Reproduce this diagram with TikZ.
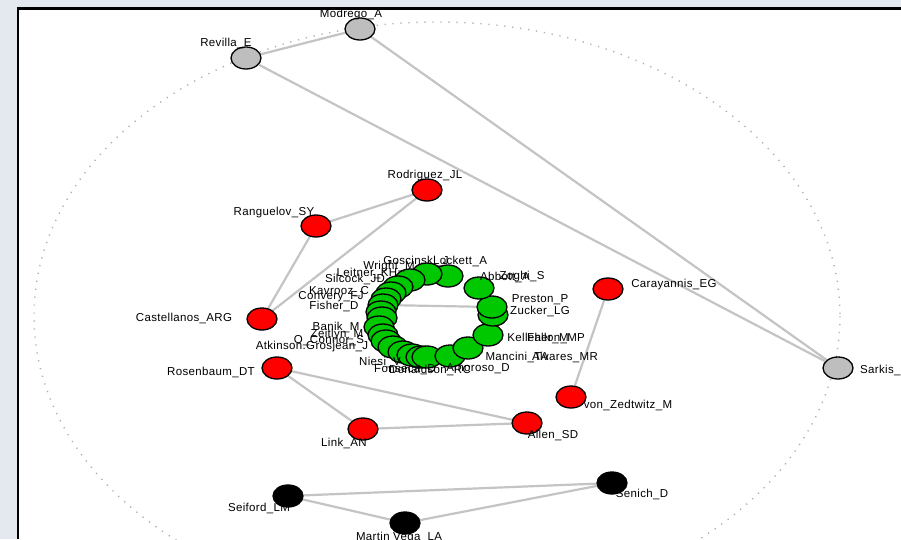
\documentclass[tikz,border=0pt]{standalone}
\usepackage{fontspec}
\setmainfont[LetterSpace=3]{Liberation Sans}
\usetikzlibrary{shapes.geometric,backgrounds}

\definecolor{nodered}{RGB}{255,0,0}
\definecolor{nodegreen}{RGB}{0,200,0}
\definecolor{nodegray}{RGB}{190,190,190}
\definecolor{tiegray}{RGB}{196,196,196}
\definecolor{rimgray}{RGB}{175,175,175}
\definecolor{slidebg}{RGB}{228,233,240}

\tikzset{
  actor/.style={ellipse,draw=black,line width=1.3pt,fill=#1,
    minimum width=30pt,minimum height=22pt,inner sep=0pt},
  actor/.default=nodegray,
  lbl/.style={font=\fontsize{11.5}{12}\selectfont,inner sep=0pt},
  tie/.style={draw=tiegray,line width=2.2pt},
}

\begin{document}
\begin{tikzpicture}[x=1pt,y=-1pt]
\useasboundingbox (0,0) rectangle (901,539);

\begin{scope}[on background layer]
  \fill[slidebg] (0,0) rectangle (901,539);
  \fill[white] (18,8.5) rectangle (901,539);
  \draw[line width=2.5pt] (18,539) -- (18,8.5) -- (901,8.5);
  \draw[rimgray,line width=1.4pt,dash pattern=on 1.2pt off 6.8pt]
    (437,316) ellipse [x radius=403,y radius=294];
\end{scope}

% isolates and small components
\node[actor] (modrego) at (360,29) {};
\node[actor] (revilla) at (246,58) {};
\node[actor] (sarkis) at (838,368) {};

\node[actor=nodered] (rodriguez) at (427,190) {};
\node[actor=nodered] (ranguelov) at (316,226) {};
\node[actor=nodered] (castellanos) at (262,319) {};
\node[actor=nodered] (rosenbaum) at (277,368) {};
\node[actor=nodered] (link) at (363,429) {};
\node[actor=nodered] (allen) at (527,423) {};
\node[actor=nodered] (zedtwitz) at (571,397) {};
\node[actor=nodered] (carayannis) at (608,289) {};

\node[actor=black] (seiford) at (288,496) {};
\node[actor=black] (martin) at (405,523) {};
\node[actor=black] (senich) at (612,483) {};

% main component
\foreach \i/\x/\y in {1/448/276, 2/427/274, 3/410/280, 4/398/287, 5/391/293,
    6/386/299, 7/383/305, 8/381/312, 9/382/318, 10/379/327, 11/383/335,
    12/386/341, 13/393/347, 14/403/352, 15/412/355, 16/421/357, 17/427/357,
    18/450/356, 19/468/348, 20/488/335, 21/493/315, 22/492/307, 23/479/288}
  \node[actor=nodegreen] (g\i) at (\x,\y) {};

% names
\node[lbl] (modrego-l) at (351,15) {Modrego\_A};
\node[lbl] (revilla-l) at (226,43) {Revilla\_E};
\node[lbl,anchor=west] (sarkis-l) at (860,370) {Sarkis\_};
\node[lbl] (rodriguez-l) at (425,176) {Rodriguez\_JL};
\node[lbl] (ranguelov-l) at (274,213) {Ranguelov\_SY};
\node[lbl] (castellanos-l) at (184,318) {Castellanos\_ARG};
\node[lbl] (rosenbaum-l) at (211,372) {Rosenbaum\_DT};
\node[lbl] (link-l) at (344,443) {Link\_AN};
\node[lbl] (allen-l) at (553,435) {Allen\_SD};
\node[lbl] (zedtwitz-l) at (628,405) {von\_Zedtwitz\_M};
\node[lbl] (carayannis-l) at (674,285) {Carayannis\_EG};
\node[lbl] (seiford-l) at (259,508) {Seiford\_LM};
\node[lbl] (martin-l) at (399,538) {Martin Vega\_LA};
\node[lbl] (senich-l) at (642,494) {Senich\_D};

\foreach \n/\x/\y/\t in {a/416/261/Goscinski\_J, b/460/261/Lockett\_A,
    c/389/267/Wright\_M, d/367/273/Leitner\_KH, e/355/279/Silcock\_JD,
    f/339/292/Kavrooz\_C, h/331/297/Convery\_FJ, i/334/306/Fisher\_D,
    j/336/327/Banik\_M, k/337/335/Zeitlyn\_M, l/329/341/O\_Connor\_S,
    m/312/347/Atkinson.Grosjean\_J, n/380/362/Niesi\_V,
    o/405/370/Fonseca\_D, p/430/370/Donaldson\_RC, q/478/369/Amoroso\_D,
    r/505/277/Abbott\_A, s/522/277/Zoghi\_S, t/540/300/Preston\_P,
    u/540/311/Zucker\_LG, v/538/338/Kelleher\_M, w/556/338/Fallon\_MP,
    x/517/357/Mancini\_TA, y/565/357/Alvares\_MR}
  \node[lbl] (g-\n) at (\x,\y) {\t};

\begin{scope}[on background layer]
  \path[tie] (revilla) edge (modrego)
                       edge (sarkis)
             (modrego) edge (sarkis)
             (rodriguez) edge (ranguelov)
                         edge (castellanos)
             (ranguelov) edge (castellanos)
             (rosenbaum) edge (link)
                         edge (allen)
             (link) edge (allen)
             (carayannis) edge (zedtwitz)
             (seiford) edge (senich)
                       edge (martin)
             (martin) edge (senich)
             (g7) edge (g22)
             (g16) edge (g20);
\end{scope}
\end{tikzpicture}
\end{document}
